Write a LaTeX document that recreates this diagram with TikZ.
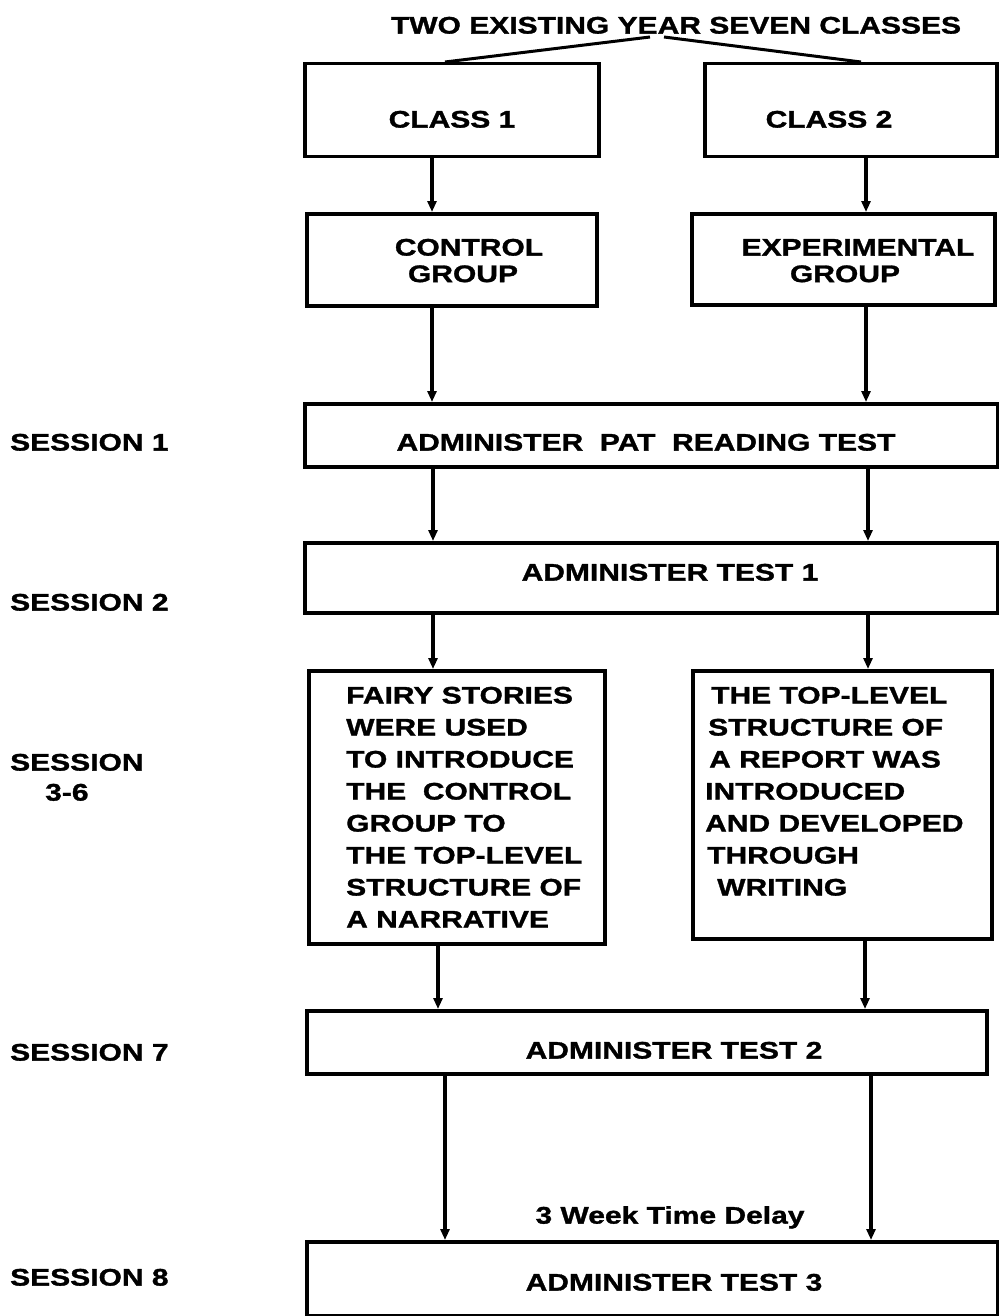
\documentclass[tikz,border=0pt]{standalone}
\usepackage{fontspec}
\setmainfont{Liberation Sans}[FakeStretch=1.25,FakeBold=1.3]
\usetikzlibrary{arrows.meta}
\begin{document}
\begin{tikzpicture}[x=1pt,y=-1pt,
  box/.style={draw,line width=3.5pt,rectangle,inner sep=0pt,anchor=north west},
  txt/.style={inner sep=0pt,font=\fontsize{24}{32}\selectfont\bfseries,anchor=base},
  mtxt/.style={inner sep=0pt,font=\fontsize{24}{32}\selectfont\bfseries,anchor=north west,align=left},
  stxt/.style={inner sep=0pt,font=\fontsize{24}{32}\selectfont\bfseries,anchor=base west},
  arr/.style={line width=3.5pt,-{Triangle[length=11pt,width=9pt]}},
  ln/.style={line width=3pt}]
\useasboundingbox (0,0) rectangle (998,1316);
\fill[white] (0,0) rectangle (998,1316);

% title
\node[txt] (title) at (676,33.6) {TWO EXISTING YEAR SEVEN CLASSES};

% boxes
\node[box,minimum width=294pt,minimum height=93pt] (class1) at (303,62) {};
\node[box,minimum width=292pt,minimum height=93pt] (class2) at (703,62) {};
\node[box,minimum width=290pt,minimum height=92pt] (ctrl) at (305,212) {};
\node[box,minimum width=303pt,minimum height=91pt] (exp) at (690,212) {};
\node[box,minimum width=693pt,minimum height=63pt] (pat) at (303,402) {};
\node[box,minimum width=693pt,minimum height=70pt] (t1) at (303,541) {};
\node[box,minimum width=296pt,minimum height=273pt] (narr) at (307,669) {};
\node[box,minimum width=299pt,minimum height=268pt] (rep) at (691,669) {};
\node[box,minimum width=680pt,minimum height=63pt] (t2) at (305,1009) {};
\node[box,minimum width=691pt,minimum height=74pt] (t3) at (305,1240) {};

% box texts
\node[txt] (c1t) at (452,127.6) {CLASS 1};
\node[txt] (c2t) at (829,127.6) {CLASS 2};
\node[txt] (ctrlt1) at (469,255.6) {CONTROL};
\node[txt] (ctrlt2) at (463,282.1) {GROUP};
\node[txt] (expt1) at (858,255.6) {EXPERIMENTAL};
\node[txt] (expt2) at (845,282.1) {GROUP};
\node[txt] (patt) at (646,450.6) {ADMINISTER\ \ PAT\ \ READING TEST};
\node[txt] (t1t) at (670,580.6) {ADMINISTER TEST 1};
\node[mtxt] (narrt) at (346,686.6) {FAIRY STORIES\\WERE USED\\TO INTRODUCE\\THE\ \ CONTROL\\GROUP TO\\THE TOP-LEVEL\\STRUCTURE OF\\A NARRATIVE};
\node[mtxt] (rept) at (705,686.6) {\hspace{6pt}THE TOP-LEVEL\\\hspace{3pt}STRUCTURE OF\\\hspace{4pt}A REPORT WAS\\INTRODUCED\\AND DEVELOPED\\\hspace{2pt}THROUGH\\\hspace{12pt}WRITING};
\node[txt] (t2t) at (674,1058.6) {ADMINISTER TEST 2};
\node[txt] (delay) at (670,1223.6) {3 Week Time Delay};
\node[txt] (t3t) at (674,1290.6) {ADMINISTER TEST 3};

% session labels
\node[stxt] (s1) at (10,450.6) {SESSION 1};
\node[stxt] (s2) at (10,610.6) {SESSION 2};
\node[stxt] (s3) at (10,770.6) {SESSION};
\node[stxt] (s3b) at (45,800.6) {3-6};
\node[stxt] (s7) at (10,1060.6) {SESSION 7};
\node[stxt] (s8) at (10,1285.6) {SESSION 8};

% helper x coordinates
\coordinate (xa) at (432,0);
\coordinate (xb) at (866,0);
\coordinate (xc) at (433,0);
\coordinate (xd) at (868,0);
\coordinate (xe) at (438,0);
\coordinate (xf) at (445,0);
\coordinate (xg) at (871,0);
\coordinate (xh) at (865,0);
\coordinate (xl) at (445,0);
\coordinate (xr) at (861,0);
\coordinate (yl) at (650,37);
\coordinate (yr) at (664,37);

% title lines
\draw[ln] (yl) -- (class1.north -| xl);
\draw[ln] (yr) -- (class2.north -| xr);

% arrows
\draw[arr] (class1.south -| xa) -- (ctrl.north -| xa);
\draw[arr] (class2.south -| xb) -- (exp.north -| xb);
\draw[arr] (ctrl.south -| xa) -- (pat.north -| xa);
\draw[arr] (exp.south -| xb) -- (pat.north -| xb);
\draw[arr] (pat.south -| xc) -- (t1.north -| xc);
\draw[arr] (pat.south -| xd) -- (t1.north -| xd);
\draw[arr] (t1.south -| xc) -- (narr.north -| xc);
\draw[arr] (t1.south -| xd) -- (rep.north -| xd);
\draw[arr] (narr.south -| xe) -- (t2.north -| xe);
\draw[arr] (rep.south -| xh) -- (t2.north -| xh);
\draw[arr] (t2.south -| xf) -- (t3.north -| xf);
\draw[arr] (t2.south -| xg) -- (t3.north -| xg);
\end{tikzpicture}
\end{document}
